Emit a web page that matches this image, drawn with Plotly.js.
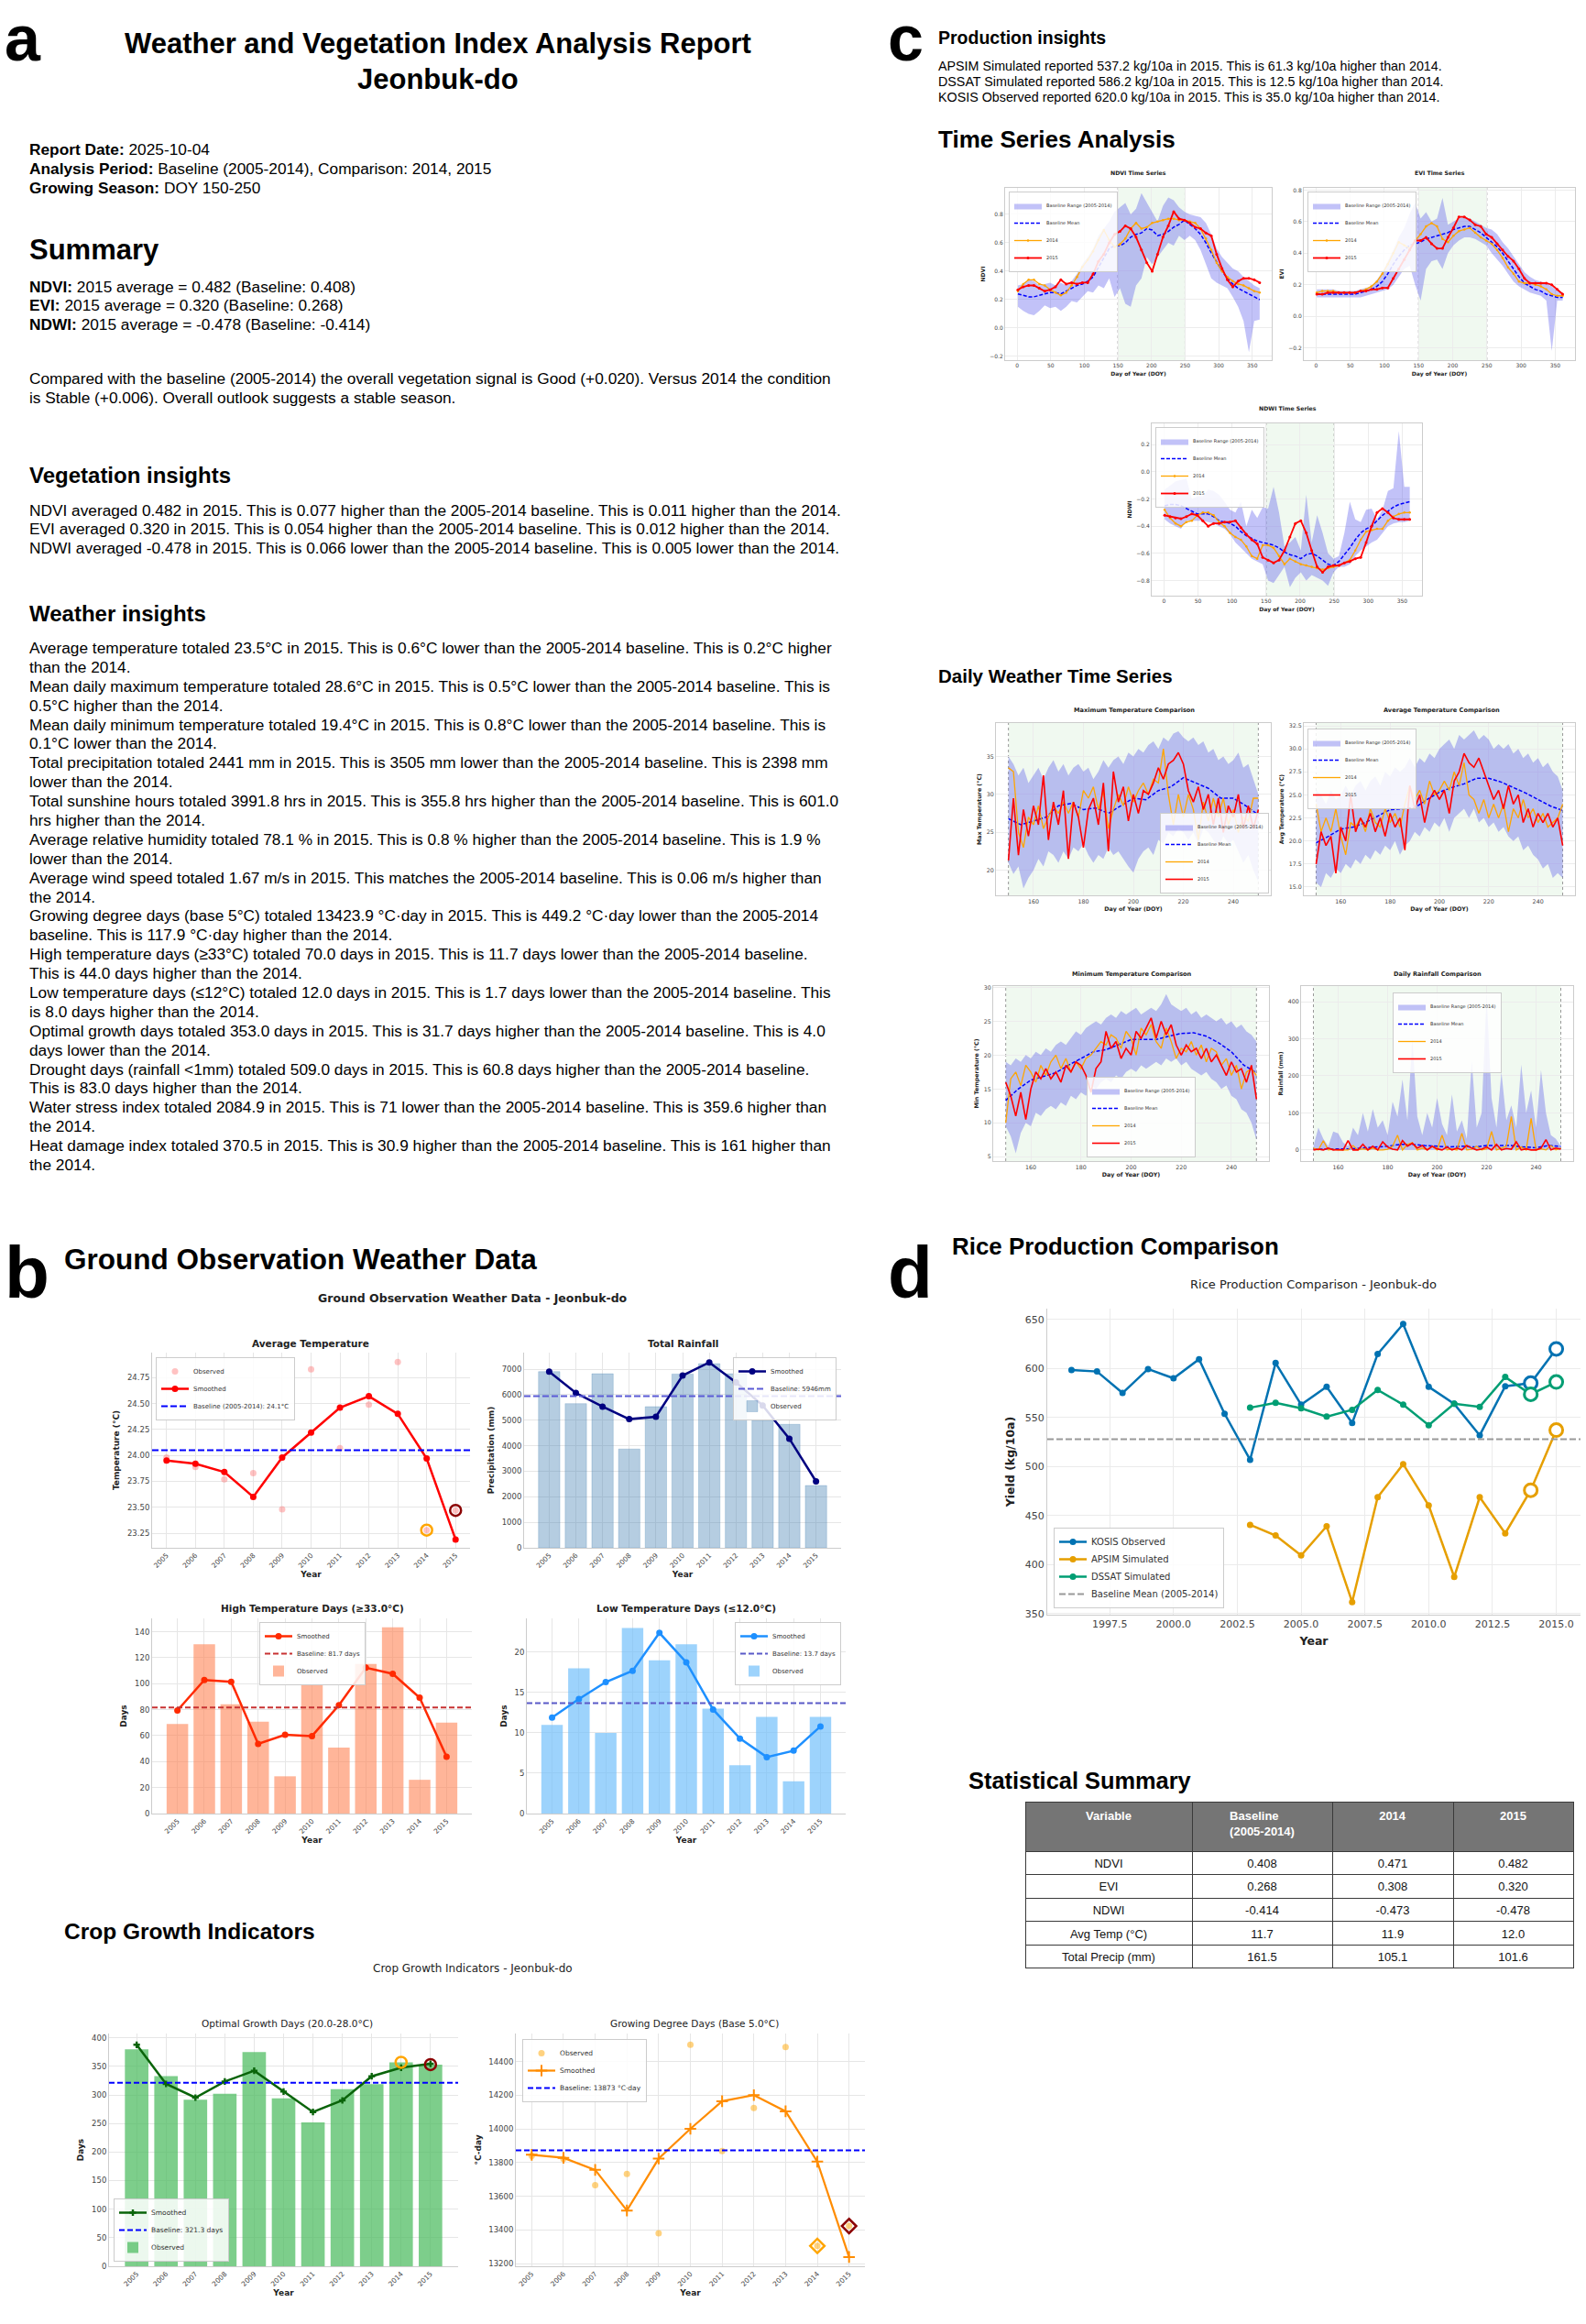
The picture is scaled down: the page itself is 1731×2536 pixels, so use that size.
<!DOCTYPE html>
<html>
<head>
<meta charset="utf-8">
<title>Weather and Vegetation Index Analysis Report - Jeonbuk-do</title>
<script src="https://cdn.plot.ly/plotly-3.0.1.min.js"></script>
<style>
html,body{margin:0;padding:0;background:#ffffff;}
#chart{width:1731px;height:2536px;}
</style>
</head>
<body>
<div id="chart"></div>
<script>
/* ====================== DATA ====================== */
// ---- Panel c: vegetation indices, 8-day composites (DOY) ----
const doy8 = [1,9,17,25,33,41,49,57,65,73,81,89,97,105,113,121,129,137,145,153,161,169,177,185,193,201,209,217,225,233,241,249,257,265,273,281,289,297,305,313,321,329,337,345,353,361];

const ndviLower = [0.15,0.12,0.10,0.09,0.12,0.16,0.14,0.15,0.12,0.15,0.19,0.18,0.22,0.26,0.25,0.30,0.28,0.35,0.22,0.28,0.17,0.15,0.30,0.35,0.50,0.45,0.50,0.55,0.60,0.58,0.65,0.62,0.65,0.62,0.55,0.45,0.35,0.32,0.30,0.28,0.22,0.15,0.05,-0.17,0.05,0.06];
const ndviUpper = [0.30,0.31,0.34,0.33,0.30,0.31,0.32,0.30,0.32,0.30,0.33,0.38,0.45,0.50,0.56,0.65,0.70,0.75,0.82,0.85,0.88,0.80,0.84,0.95,0.88,0.82,0.75,0.86,0.92,0.90,0.85,0.82,0.80,0.79,0.78,0.74,0.66,0.56,0.50,0.46,0.42,0.40,0.36,0.33,0.30,0.28];
const ndviMean  = [0.24,0.23,0.22,0.22,0.23,0.24,0.25,0.25,0.24,0.26,0.28,0.30,0.31,0.33,0.36,0.43,0.50,0.56,0.58,0.58,0.60,0.64,0.66,0.67,0.70,0.69,0.65,0.66,0.68,0.71,0.73,0.76,0.73,0.70,0.66,0.60,0.53,0.46,0.40,0.35,0.31,0.28,0.26,0.24,0.22,0.20];
const ndvi2014  = [0.26,0.31,0.34,0.34,0.31,0.30,0.27,0.25,0.23,0.25,0.30,0.36,0.43,0.48,0.54,0.62,0.69,0.62,0.57,0.59,0.63,0.70,0.74,0.70,0.71,0.74,0.75,0.76,0.77,0.77,0.76,0.76,0.75,0.74,0.70,0.63,0.55,0.46,0.40,0.36,0.33,0.31,0.30,0.28,0.26,0.25];
const ndvi2015  = [0.27,0.29,0.30,0.30,0.28,0.26,0.27,0.29,0.34,0.31,0.32,0.31,0.32,0.32,0.38,0.47,0.52,0.60,0.66,0.68,0.72,0.70,0.64,0.55,0.46,0.40,0.52,0.64,0.72,0.82,0.77,0.76,0.74,0.71,0.70,0.67,0.65,0.52,0.42,0.34,0.29,0.33,0.35,0.35,0.34,0.32];

const eviLower = [0.12,0.12,0.12,0.12,0.12,0.12,0.12,0.12,0.12,0.13,0.14,0.15,0.16,0.17,0.20,0.25,0.30,0.32,0.20,0.10,0.30,0.35,0.36,0.30,0.40,0.45,0.48,0.50,0.50,0.49,0.47,0.45,0.40,0.36,0.32,0.27,0.22,0.19,0.17,0.15,0.14,0.13,0.10,-0.22,0.10,0.10];
const eviUpper = [0.17,0.17,0.17,0.17,0.16,0.16,0.16,0.16,0.17,0.18,0.19,0.23,0.28,0.35,0.42,0.50,0.56,0.65,0.72,0.62,0.66,0.60,0.62,0.75,0.58,0.60,0.62,0.63,0.62,0.60,0.58,0.56,0.55,0.52,0.47,0.43,0.38,0.33,0.28,0.25,0.23,0.22,0.21,0.19,0.16,0.15];
const eviMean  = [0.14,0.14,0.14,0.14,0.14,0.14,0.14,0.14,0.15,0.16,0.17,0.19,0.22,0.27,0.33,0.38,0.42,0.45,0.46,0.47,0.49,0.50,0.51,0.52,0.53,0.55,0.56,0.57,0.57,0.55,0.53,0.50,0.47,0.44,0.40,0.35,0.30,0.25,0.21,0.19,0.17,0.16,0.14,0.13,0.12,0.12];
const evi2014  = [0.15,0.16,0.16,0.16,0.15,0.15,0.15,0.15,0.16,0.17,0.19,0.22,0.27,0.33,0.40,0.47,0.45,0.43,0.48,0.52,0.57,0.59,0.57,0.49,0.47,0.51,0.54,0.55,0.56,0.53,0.50,0.48,0.46,0.42,0.37,0.31,0.27,0.22,0.21,0.21,0.20,0.19,0.17,0.14,0.13,0.13];
const evi2015  = [0.14,0.14,0.15,0.15,0.15,0.15,0.15,0.15,0.16,0.16,0.17,0.17,0.18,0.18,0.24,0.30,0.36,0.42,0.48,0.48,0.50,0.46,0.43,0.43,0.50,0.56,0.63,0.63,0.61,0.58,0.57,0.52,0.50,0.46,0.42,0.38,0.35,0.30,0.24,0.21,0.21,0.21,0.21,0.20,0.17,0.14];

const ndwiLower = [-0.35,-0.38,-0.40,-0.42,-0.36,-0.36,-0.36,-0.36,-0.37,-0.38,-0.40,-0.42,-0.46,-0.52,-0.56,-0.60,-0.64,-0.66,-0.68,-0.80,-0.82,-0.76,-0.70,-0.85,-0.78,-0.74,-0.80,-0.76,-0.78,-0.80,-0.84,-0.74,-0.70,-0.70,-0.68,-0.62,-0.58,-0.55,-0.52,-0.50,-0.45,-0.40,-0.38,-0.37,-0.37,-0.36];
const ndwiUpper = [-0.13,-0.10,-0.07,-0.06,-0.05,-0.20,-0.18,-0.18,-0.13,-0.14,-0.17,-0.22,-0.28,-0.30,-0.22,-0.40,-0.28,-0.34,-0.26,-0.27,-0.11,-0.30,-0.55,-0.52,-0.48,-0.58,-0.17,-0.52,-0.32,-0.45,-0.60,-0.64,-0.62,-0.45,-0.22,-0.35,-0.37,-0.28,-0.27,-0.35,-0.28,-0.14,-0.12,0.30,-0.11,-0.11];
const ndwiMean  = [-0.25,-0.24,-0.24,-0.25,-0.27,-0.29,-0.31,-0.31,-0.31,-0.33,-0.36,-0.37,-0.38,-0.40,-0.44,-0.47,-0.49,-0.51,-0.52,-0.53,-0.54,-0.56,-0.59,-0.61,-0.62,-0.64,-0.61,-0.60,-0.62,-0.65,-0.68,-0.69,-0.66,-0.61,-0.56,-0.50,-0.45,-0.42,-0.40,-0.36,-0.32,-0.29,-0.26,-0.24,-0.23,-0.22];
const ndwi2014  = [-0.28,-0.34,-0.38,-0.40,-0.37,-0.36,-0.32,-0.30,-0.30,-0.32,-0.37,-0.40,-0.45,-0.48,-0.50,-0.55,-0.62,-0.64,-0.54,-0.54,-0.56,-0.62,-0.68,-0.64,-0.66,-0.68,-0.69,-0.70,-0.71,-0.72,-0.71,-0.70,-0.69,-0.67,-0.65,-0.58,-0.50,-0.44,-0.43,-0.42,-0.42,-0.36,-0.33,-0.31,-0.30,-0.30];
const ndwi2015  = [-0.32,-0.33,-0.34,-0.345,-0.33,-0.31,-0.32,-0.36,-0.40,-0.38,-0.38,-0.37,-0.37,-0.36,-0.41,-0.46,-0.50,-0.53,-0.63,-0.65,-0.67,-0.65,-0.58,-0.48,-0.38,-0.36,-0.45,-0.58,-0.70,-0.74,-0.70,-0.69,-0.69,-0.67,-0.66,-0.64,-0.63,-0.52,-0.40,-0.30,-0.27,-0.30,-0.34,-0.35,-0.35,-0.35];

// ---- Panel c: daily weather over the growing season ----
const growingSeason = [150, 250];
const doy2 = [150,152,154,156,158,160,162,164,166,168,170,172,174,176,178,180,182,184,186,188,190,192,194,196,198,200,202,204,206,208,210,212,214,216,218,220,222,224,226,228,230,232,234,236,238,240,242,244,246,248,250];
const doy5 = [150,155,160,165,170,175,180,185,190,195,200,205,210,215,220,225,230,235,240,245,250];

const maxT2015  = [21.3,29.5,22.0,28.0,24.5,28.5,26.0,32.5,24.0,29.0,26.0,30.5,21.5,29.0,27.0,23.0,28.0,29.5,26.0,31.5,22.5,33.0,29.0,31.0,26.5,30.0,27.5,30.5,30.0,31.5,33.5,32.0,34.0,34.5,35.5,34.0,30.5,29.0,31.0,28.0,30.0,26.0,29.5,25.0,28.5,27.0,30.0,25.5,28.5,25.5,28.0];
const maxT2014  = [33.5,33.0,25.0,23.0,27.0,26.0,28.5,25.5,27.0,28.5,27.5,29.0,27.5,29.0,27.0,30.5,29.5,31.0,28.0,30.5,25.5,28.0,30.0,28.5,31.0,29.0,30.5,31.5,30.0,32.0,31.5,36.0,30.0,26.0,30.0,27.0,30.0,28.0,24.0,29.0,26.5,29.5,27.0,29.5,26.0,28.0,25.0,27.0,26.5,29.5,29.5];
const maxTMean  = [26.8,26.0,26.5,27.0,28.5,28.8,28.0,28.2,27.5,28.5,29.5,29.3,30.5,31.0,32.2,31.5,30.8,29.5,29.5,28.5,27.3];
const maxTUpper = [35.0,34.0,32.5,33.5,31.5,32.5,33.5,32.0,33.5,34.5,33.0,34.0,32.5,33.5,34.0,33.0,33.5,32.0,33.0,34.5,33.5,34.5,35.0,34.0,35.5,35.0,36.0,35.5,36.5,37.0,36.0,37.5,37.0,38.0,38.3,37.5,37.0,37.5,36.5,37.0,35.5,36.0,34.5,35.0,34.0,34.5,35.5,33.5,34.0,32.0,30.0];
const maxTLower = [21.0,19.5,20.5,17.6,19.0,20.0,21.5,20.5,22.5,22.0,21.0,22.5,21.5,23.0,22.5,23.5,22.0,21.0,22.0,21.5,23.0,22.0,22.5,21.5,20.5,19.7,21.5,22.5,23.0,22.0,24.0,23.5,25.0,24.5,25.5,25.0,24.0,25.0,23.5,25.5,25.0,24.0,23.0,24.5,23.5,24.0,22.5,21.0,22.0,20.0,18.5];

const avgT2015  = [17.5,21.0,19.5,20.5,16.5,21.5,20.0,25.0,21.0,22.5,21.5,23.0,21.0,22.5,20.5,23.0,21.5,22.5,19.0,26.0,23.5,25.0,22.0,24.5,25.5,24.5,25.5,23.0,26.5,27.5,29.5,28.5,28.0,29.0,27.5,26.0,24.5,25.5,23.5,26.0,24.0,25.0,22.0,23.5,21.5,23.0,22.0,23.0,21.5,22.5,19.5];
const avgT2014  = [24.0,21.0,22.5,21.0,23.5,20.5,18.5,22.0,21.5,22.5,21.0,23.5,22.0,21.5,23.5,22.0,23.0,21.5,24.0,26.0,24.5,25.5,24.0,26.5,25.0,25.5,26.5,25.5,27.5,26.0,28.5,25.0,24.5,23.0,24.5,22.5,24.0,22.5,24.0,21.0,23.5,22.5,24.5,22.5,23.5,22.0,23.0,21.5,22.0,22.5,24.0];
const avgTMean  = [19.8,20.5,21.3,21.5,22.0,22.7,23.4,23.5,23.6,24.5,25.3,25.8,26.2,26.8,26.8,26.4,25.8,25.2,24.5,23.8,23.3];
const avgTUpper = [25.5,25.0,24.0,25.5,24.5,25.0,26.0,25.0,26.0,26.5,25.5,26.5,27.0,26.0,27.5,27.0,28.0,27.5,28.0,29.0,28.0,29.0,28.5,29.5,29.0,30.0,30.5,31.0,30.0,31.5,31.0,31.5,32.0,31.0,31.5,31.0,30.0,30.5,30.0,30.5,29.5,30.0,29.0,29.5,28.5,29.0,28.0,28.5,27.5,27.0,25.5];
const avgTLower = [15.5,15.0,16.5,16.0,17.0,16.5,17.5,17.0,18.0,17.5,18.5,18.0,19.0,18.5,19.5,19.0,20.0,18.5,19.5,20.0,21.0,20.5,21.5,21.0,22.0,21.5,22.5,21.0,22.5,23.0,23.5,22.5,23.5,22.0,22.5,21.5,22.0,21.0,21.5,20.5,20.0,20.5,19.0,19.5,18.5,18.0,17.0,17.5,16.0,16.5,16.0];

const minT2015  = [16.0,14.0,11.0,14.5,10.5,15.0,17.5,16.5,18.0,16.5,17.5,16.0,18.5,17.5,19.0,18.5,17.0,14.5,18.0,19.0,23.5,21.0,22.0,19.5,21.0,20.0,23.5,22.5,24.0,25.5,22.5,25.0,23.0,24.5,21.5,20.0,21.5,20.5,21.0,19.5,21.0,19.0,20.0,18.5,17.0,19.0,17.5,18.0,16.0,18.5,13.5];
const minT2014  = [10.0,16.5,17.5,15.5,18.5,17.5,16.0,18.5,17.0,19.0,20.0,18.0,19.5,17.5,19.0,18.0,19.5,20.0,21.0,22.0,21.5,23.0,22.5,21.0,23.5,22.5,20.0,24.0,23.0,24.5,22.0,21.0,24.0,22.0,19.5,21.0,20.5,22.0,20.0,21.5,19.0,21.0,20.5,18.5,19.5,17.0,18.5,15.0,17.5,18.0,17.0];
const minTMean  = [13.3,15.0,16.3,16.9,17.4,18.5,19.5,20.5,20.8,21.5,22.3,22.3,22.3,22.8,23.2,23.3,22.8,21.8,20.5,18.5,17.4];
const minTUpper = [19.0,18.5,19.5,19.0,20.0,19.5,20.5,20.0,21.0,20.5,21.5,22.0,21.5,22.5,23.5,23.0,24.0,24.5,25.0,24.5,25.5,26.0,25.5,26.5,26.0,26.5,27.0,26.0,26.5,27.0,26.5,27.5,29.0,27.5,27.0,26.5,27.0,26.0,26.5,25.5,26.0,25.5,25.0,25.5,24.5,25.0,24.0,24.5,23.5,23.0,22.0];
const minTLower = [9.5,8.0,5.5,8.5,10.0,9.5,11.5,11.0,12.0,12.5,12.0,13.0,12.5,14.0,13.5,14.5,14.0,15.5,15.0,16.0,16.5,16.0,17.0,16.5,17.5,18.0,17.5,18.5,18.0,18.5,19.0,18.5,19.5,19.0,19.5,18.5,19.0,18.0,17.5,17.0,17.5,16.5,16.0,15.0,15.5,14.0,13.5,12.0,11.5,10.0,7.5];

const rain2015  = [0,2,0,5,0,1,0,25,0,0,15,0,10,0,22,8,2,0,25,10,18,5,12,0,10,3,0,8,0,5,0,12,5,0,2,8,0,15,0,4,2,22,0,3,0,0,5,28,0,5,2];
const rain2014  = [5,0,25,0,2,0,0,0,12,0,3,0,5,0,0,2,10,40,0,15,20,0,5,0,10,0,40,0,3,0,45,0,2,10,0,3,50,0,5,10,90,0,8,0,85,0,3,0,12,0,5];
const rainMean  = [2,3,3,3,5,8,10,15,15,12,10,8,10,8,12,12,12,8,6,12,10];
const rainUpper = [10,60,30,10,50,45,20,10,60,40,100,50,110,60,80,40,130,90,190,80,300,90,40,100,60,140,70,40,150,50,80,30,240,60,100,420,140,60,210,80,120,60,230,100,160,60,215,100,40,30,10];

// ---- Panel b: ground observation (annual) ----
const years = [2005,2006,2007,2008,2009,2010,2011,2012,2013,2014,2015];
const avgTempObs    = [23.98,23.89,23.77,23.83,23.48,24.83,24.07,24.49,24.90,23.28,23.47];
const avgTempSmooth = [23.95,23.92,23.84,23.60,23.98,24.22,24.46,24.57,24.40,23.97,23.19];
const avgTempBaseline = 24.05;
const rainObs    = [6906,5651,6822,3871,5532,6810,7216,6820,4994,4839,2441];
const rainSmooth = [6906,6069,5532,5042,5137,6750,7264,6487,5580,4277,2605];
const rainBaseline = 5946;
const highObs    = [68.9,130.4,84.1,70.7,28.7,98.9,50.8,115.2,143.4,26.0,70.0];
const highSmooth = [79.4,102.9,101.5,53.6,60.6,59.7,83.4,112.3,107.6,89.3,43.7];
const highBaseline = 81.7;
const lowObs     = [11,18,10,23,19,21,13,6,12,4,12];
const lowSmooth  = [11.9,14.2,16.3,17.7,22.4,18.75,12.9,9.3,7.0,7.8,10.8];
const lowBaseline = 13.7;
const optObs     = [380,333,291.4,302,375,294,252,310,319,357,353];
const optSmooth  = [387.8,319.3,295.2,323.5,342.2,305.9,270,290.4,332.6,347.6,354.5];
const optBaseline = 321.3;
const gddObs     = [13840,13823,13666,13733,13381,14500,13869,14125,14487,13306,13424];
const gddSmooth  = [13847,13829,13757,13516,13824,14001,14165,14201,14105,13806,13240];
const gddBaseline = 13873;

// ---- Panel d: rice production ----
const riceYears = [1996,1997,1998,1999,2000,2001,2002,2003,2004,2005,2006,2007,2008,2009,2010,2011,2012,2013,2014,2015];
const kosisObs  = [598.4,596.9,575.0,599.4,590.0,609.4,553.8,506.9,605.6,563.1,581.3,544.4,614.7,645.3,581.3,564.0,531.9,581.9,585.0,620.0];
const simYears  = [2003,2004,2005,2006,2007,2008,2009,2010,2011,2012,2013,2014,2015];
const apsimSim  = [440.6,429.7,409.4,439.1,361.9,468.8,502.5,460.3,387.5,468.8,431.9,475.9,537.2];
const dssatSim  = [560.0,565.0,559.4,550.9,557.8,578.1,563.1,542.2,564.1,560.9,591.3,573.7,586.2];
const riceBaseline = 528;

// ---- Statistical summary table ----
const statHeader   = ['Variable','Baseline<br>(2005-2014)','2014','2015'];
const statVariable = ['NDVI','EVI','NDWI','Avg Temp (°C)','Total Precip (mm)'];
const statBaseline = ['0.408','0.268','-0.414','11.7','161.5'];
const stat2014     = ['0.471','0.308','-0.473','11.9','105.1'];
const stat2015     = ['0.482','0.320','-0.478','12.0','101.6'];

/* ====================== LAYOUT ====================== */
const W = 1731, H = 2536;
const px = v => v / W;
const py = v => 1 - v / H;
const FT = 'Liberation Sans, Arial, Helvetica, sans-serif';
const FP = 'DejaVu Sans, Verdana, sans-serif';
const BAND = 'rgba(70,70,235,0.33)';

const layout = {
  width: W, height: H,
  margin: {l: 0, r: 0, t: 0, b: 0, pad: 0},
  paper_bgcolor: '#ffffff', plot_bgcolor: '#ffffff',
  font: {family: FP, size: 10, color: '#333'},
  hovermode: false, showlegend: true,
  annotations: [], shapes: []
};

function axes(n, box, xo, yo, st) {
  const s = n === 1 ? '' : String(n);
  const common = {showgrid: true, gridcolor: st.grid || '#e8e8e8', gridwidth: 1, zeroline: false,
    showline: true, linecolor: '#cccccc', linewidth: 1, mirror: !!st.mirror, ticks: '',
    automargin: false, fixedrange: true};
  layout['xaxis' + s] = Object.assign({}, common, {
    anchor: 'y' + s, domain: [px(box[0]), px(box[1])],
    tickfont: {family: FP, size: st.xtick || st.tick, color: '#444'},
    title: {text: '<b>' + xo.t + '</b>', font: {family: FP, size: st.title, color: '#222'}, standoff: st.xs}
  }, xo.a);
  layout['yaxis' + s] = Object.assign({}, common, {
    anchor: 'x' + s, domain: [py(box[3]), py(box[2])],
    tickfont: {family: FP, size: st.tick, color: '#444'},
    title: {text: '<b>' + yo.t + '</b>', font: {family: FP, size: st.title, color: '#222'}, standoff: st.ys}
  }, yo.a);
}

function legendBox(n, x, y, xa, ya, size) {
  layout[n === 1 ? 'legend' : 'legend' + n] = {
    x: px(x), y: py(y), xanchor: xa, yanchor: ya, xref: 'paper', yref: 'paper',
    bgcolor: 'rgba(255,255,255,0.85)', bordercolor: '#cccccc', borderwidth: 1,
    font: {family: FP, size: size, color: '#333'}, tracegroupgap: 0, traceorder: 'normal'
  };
}

const traces = [];
function T(n, o) {
  const s = n === 1 ? '' : String(n);
  traces.push(Object.assign({type: 'scatter', xaxis: 'x' + s, yaxis: 'y' + s,
    legend: n === 1 ? 'legend' : 'legend' + n, hoverinfo: 'skip'}, o));
}

/* ---------- panel c: index time series ---------- */
const stC = {tick: 6, title: 6, xs: 4, ys: 4, mirror: true, grid: '#ececec'};
const xrIdx = [-18, 379];
axes(1, [1097, 1388, 205, 393], {t: 'Day of Year (DOY)', a: {range: xrIdx, tick0: 0, dtick: 50}},
  {t: 'NDVI', a: {range: [-0.226, 0.987], tick0: 0, dtick: 0.2, tickformat: '.1f'}}, stC);
axes(2, [1423, 1719, 205, 393], {t: 'Day of Year (DOY)', a: {range: xrIdx, tick0: 0, dtick: 50}},
  {t: 'EVI', a: {range: [-0.278, 0.814], tick0: 0, dtick: 0.2, tickformat: '.1f'}}, stC);
axes(3, [1257, 1552, 462, 650], {t: 'Day of Year (DOY)', a: {range: xrIdx, tick0: 0, dtick: 50}},
  {t: 'NDWI', a: {range: [-0.912, 0.357], tick0: 0, dtick: 0.2, tickformat: '.1f'}}, stC);

function indexChart(n, lower, upper, mean, y14, y15) {
  T(n, {x: doy8, y: lower, mode: 'lines', line: {width: 0, color: 'rgba(0,0,0,0)'}, showlegend: false});
  T(n, {x: doy8, y: upper, mode: 'lines', line: {width: 0, color: 'rgba(0,0,0,0)'}, fill: 'tonexty', fillcolor: BAND, name: 'Baseline Range (2005-2014)'});
  T(n, {x: doy8, y: mean, mode: 'lines', line: {color: '#0000ff', width: 1.5, dash: '4px,2px'}, name: 'Baseline Mean'});
  T(n, {x: doy8, y: y14, mode: 'lines+markers', line: {color: '#ffa500', width: 1.3}, marker: {size: 2.5, color: '#ffa500'}, name: '2014'});
  T(n, {x: doy8, y: y15, mode: 'lines+markers', line: {color: '#ff0000', width: 1.8}, marker: {size: 3, color: '#ff0000'}, name: '2015'});
}
indexChart(1, ndviLower, ndviUpper, ndviMean, ndvi2014, ndvi2015);
indexChart(2, eviLower, eviUpper, eviMean, evi2014, evi2015);
indexChart(3, ndwiLower, ndwiUpper, ndwiMean, ndwi2014, ndwi2015);
legendBox(1, 1101, 209, 'left', 'top', 5);
legendBox(2, 1427, 209, 'left', 'top', 5);
legendBox(3, 1261, 466, 'left', 'top', 5);

/* ---------- panel c: daily weather ---------- */
const stD = {tick: 6.3, title: 6.3, xs: 4, ys: 4, mirror: true, grid: '#ececec'};
const xrDay = [145, 255];
axes(4, [1087, 1387, 789, 977], {t: 'Day of Year (DOY)', a: {range: xrDay, tick0: 0, dtick: 20}},
  {t: 'Max Temperature (°C)', a: {range: [16.7, 39.4], tick0: 0, dtick: 5}}, stD);
axes(5, [1423, 1719, 789, 977], {t: 'Day of Year (DOY)', a: {range: xrDay, tick0: 0, dtick: 20}},
  {t: 'Avg Temperature (°C)', a: {range: [14.1, 32.8], tick0: 0, dtick: 2.5, tickformat: '.1f'}}, stD);
axes(6, [1084, 1385, 1076, 1267], {t: 'Day of Year (DOY)', a: {range: xrDay, tick0: 0, dtick: 20}},
  {t: 'Min Temperature (°C)', a: {range: [4.35, 30.2], tick0: 0, dtick: 5}}, stD);
axes(7, [1420, 1717, 1076, 1267], {t: 'Day of Year (DOY)', a: {range: xrDay, tick0: 0, dtick: 20}},
  {t: 'Rainfall (mm)', a: {range: [-30, 442], tick0: 0, dtick: 100}}, stD);

function dailyChart(n, lower, upper, mean, y14, y15) {
  if (lower) {
    T(n, {x: doy2, y: lower, mode: 'lines', line: {width: 0, color: 'rgba(0,0,0,0)'}, showlegend: false});
    T(n, {x: doy2, y: upper, mode: 'lines', line: {width: 0, color: 'rgba(0,0,0,0)'}, fill: 'tonexty', fillcolor: BAND, name: 'Baseline Range (2005-2014)'});
  } else {
    T(n, {x: doy2, y: upper, mode: 'lines', line: {width: 0, color: 'rgba(0,0,0,0)'}, fill: 'tozeroy', fillcolor: BAND, name: 'Baseline Range (2005-2014)'});
  }
  T(n, {x: doy5, y: mean, mode: 'lines', line: {color: '#0000ff', width: 1.5, dash: '4px,2px'}, name: 'Baseline Mean'});
  T(n, {x: doy2, y: y14, mode: 'lines', line: {color: '#ffa500', width: 1.3}, name: '2014'});
  T(n, {x: doy2, y: y15, mode: 'lines', line: {color: '#ff0000', width: 1.6}, name: '2015'});
}
dailyChart(4, maxTLower, maxTUpper, maxTMean, maxT2014, maxT2015);
dailyChart(5, avgTLower, avgTUpper, avgTMean, avgT2014, avgT2015);
dailyChart(6, minTLower, minTUpper, minTMean, minT2014, minT2015);
dailyChart(7, null, rainUpper, rainMean, rain2014, rain2015);
legendBox(4, 1385, 975, 'right', 'bottom', 5);
legendBox(5, 1427, 795, 'left', 'top', 5);
legendBox(6, 1186, 1263, 'left', 'bottom', 5);
legendBox(7, 1520, 1083, 'left', 'top', 5);

// growing season shading on all DOY charts
for (const n of [1, 2, 3, 4, 5, 6, 7]) {
  const s = n === 1 ? '' : String(n);
  layout.shapes.push({type: 'rect', xref: 'x' + s, yref: 'y' + s + ' domain', x0: growingSeason[0], x1: growingSeason[1], y0: 0, y1: 1,
    fillcolor: 'rgba(0,150,0,0.06)', line: {width: 0}, layer: 'below'});
  for (const g of growingSeason) {
    layout.shapes.push({type: 'line', xref: 'x' + s, yref: 'y' + s + ' domain', x0: g, x1: g, y0: 0, y1: 1,
      line: {color: '#999999', width: 1, dash: 'dot'}, layer: 'below'});
  }
}

/* ---------- panel b: ground observation ---------- */
const stB = {tick: 8.5, xtick: 7.5, title: 9, xs: 2, ys: 6, mirror: false, grid: '#e6e6e6'};
const xrLine = [2004.5, 2015.5];
const xrBar = [2004.06, 2015.94];
const yearAxis = r => ({range: r, tick0: 2005, dtick: 1, tickangle: -45});
axes(8, [166, 513, 1476, 1689], {t: 'Year', a: yearAxis(xrLine)},
  {t: 'Temperature (°C)', a: {range: [23.11, 24.99], tick0: 0, dtick: 0.25, tickformat: '.2f'}}, stB);
axes(9, [572, 918, 1476, 1689], {t: 'Year', a: yearAxis(xrBar)},
  {t: 'Precipitation (mm)', a: {range: [0, 7650], tick0: 0, dtick: 1000, tickformat: 'd'}}, stB);
axes(10, [166, 515, 1766, 1979], {t: 'Year', a: yearAxis(xrBar)},
  {t: 'Days', a: {range: [0, 150.3], tick0: 0, dtick: 20}}, stB);
axes(11, [575, 923, 1766, 1979], {t: 'Year', a: yearAxis(xrBar)},
  {t: 'Days', a: {range: [0, 24.2], tick0: 0, dtick: 5}}, stB);
axes(12, [119, 500, 2219, 2473], {t: 'Year', a: yearAxis(xrBar)},
  {t: 'Days', a: {range: [0, 407.5], tick0: 0, dtick: 50}}, stB);
axes(13, [563, 944, 2219, 2473], {t: 'Year', a: yearAxis(xrLine)},
  {t: '°C-day', a: {range: [13185, 14567], tick0: 0, dtick: 200, tickformat: 'd'}}, stB);

function highlight(n, x, y, color, symbol) {
  T(n, {x: [x], y: [y], mode: 'markers', showlegend: false,
    marker: {symbol: symbol, size: 12, color: color, line: {width: 2.5, color: color}}});
}

// Average temperature
T(8, {x: years, y: avgTempObs, mode: 'markers', marker: {color: 'rgba(255,110,110,0.42)', size: 7}, name: 'Observed'});
T(8, {x: years, y: avgTempSmooth, mode: 'lines+markers', line: {color: '#ff0000', width: 2.5}, marker: {color: '#ff0000', size: 7}, name: 'Smoothed'});
T(8, {x: xrLine, y: [avgTempBaseline, avgTempBaseline], mode: 'lines', line: {color: '#0000ff', width: 2, dash: '7px,3px'}, name: 'Baseline (2005-2014): 24.1°C'});
highlight(8, years[9], avgTempObs[9], '#ffa500', 'circle-open');
highlight(8, years[10], avgTempObs[10], '#8b0000', 'circle-open');
legendBox(8, 170, 1481, 'left', 'top', 7);

// Total rainfall
T(9, {type: 'bar', x: years, y: rainObs, width: 0.8, marker: {color: 'rgba(70,130,180,0.4)', line: {width: 0.6, color: 'rgba(70,130,180,0.45)'}}, name: 'Observed', legendrank: 3});
T(9, {x: years, y: rainSmooth, mode: 'lines+markers', line: {color: '#000080', width: 2.5}, marker: {color: '#000080', size: 7}, name: 'Smoothed', legendrank: 1});
T(9, {x: xrBar, y: [rainBaseline, rainBaseline], mode: 'lines', line: {color: '#5b5bd6', width: 2, dash: '7px,3px'}, name: 'Baseline: 5946mm', legendrank: 2});
legendBox(9, 913, 1481, 'right', 'top', 7);

// High temperature days
T(10, {type: 'bar', x: years, y: highObs, width: 0.8, marker: {color: 'rgba(255,127,80,0.58)'}, name: 'Observed', legendrank: 3});
T(10, {x: years, y: highSmooth, mode: 'lines+markers', line: {color: '#ff2a00', width: 2.5}, marker: {color: '#ff2a00', size: 7}, name: 'Smoothed', legendrank: 1});
T(10, {x: xrBar, y: [highBaseline, highBaseline], mode: 'lines', line: {color: '#c83232', width: 2, dash: '6px,3px'}, name: 'Baseline: 81.7 days', legendrank: 2});
legendBox(10, 283, 1770, 'left', 'top', 7);

// Low temperature days
T(11, {type: 'bar', x: years, y: lowObs, width: 0.8, marker: {color: 'rgba(110,190,250,0.68)'}, name: 'Observed', legendrank: 3});
T(11, {x: years, y: lowSmooth, mode: 'lines+markers', line: {color: '#1e90ff', width: 2.5}, marker: {color: '#1e90ff', size: 7}, name: 'Smoothed', legendrank: 1});
T(11, {x: xrBar, y: [lowBaseline, lowBaseline], mode: 'lines', line: {color: '#5a5ac8', width: 2, dash: '6px,3px'}, name: 'Baseline: 13.7 days', legendrank: 2});
legendBox(11, 918, 1770, 'right', 'top', 7);

// Optimal growth days
T(12, {type: 'bar', x: years, y: optObs, width: 0.8, marker: {color: 'rgba(70,185,90,0.7)'}, name: 'Observed', legendrank: 3});
T(12, {x: years, y: optSmooth, mode: 'lines+markers', line: {color: '#0a640a', width: 2.5}, marker: {color: '#0a640a', size: 6, symbol: 'cross'}, name: 'Smoothed', legendrank: 1});
T(12, {x: xrBar, y: [optBaseline, optBaseline], mode: 'lines', line: {color: '#0000ff', width: 2, dash: '6px,3px'}, name: 'Baseline: 321.3 days', legendrank: 2});
highlight(12, years[9], optObs[9], '#ffa500', 'circle-open');
highlight(12, years[10], optObs[10], '#8b0000', 'circle-open');
legendBox(12, 124, 2468, 'left', 'bottom', 7.5);

// Growing degree days
T(13, {x: years, y: gddObs, mode: 'markers', marker: {color: 'rgba(255,165,0,0.5)', size: 7}, name: 'Observed'});
T(13, {x: years, y: gddSmooth, mode: 'lines+markers', line: {color: '#ff8c00', width: 2.2}, marker: {symbol: 'cross-thin', size: 9, color: '#ff8c00', line: {width: 2, color: '#ff8c00'}}, name: 'Smoothed'});
T(13, {x: xrLine, y: [gddBaseline, gddBaseline], mode: 'lines', line: {color: '#0000ff', width: 2, dash: '6px,3px'}, name: 'Baseline: 13873 °C·day'});
highlight(13, years[9], gddObs[9], '#ffa500', 'diamond-open');
highlight(13, years[10], gddObs[10], '#8b0000', 'diamond-open');
legendBox(13, 570, 2225, 'left', 'top', 7.5);

/* ---------- panel d: rice production ---------- */
const stR = {tick: 11, title: 12.5, xs: 8, ys: 8, mirror: false, grid: '#ebebeb'};
const xrRice = [1995.05, 2015.95];
axes(14, [1143, 1725, 1428, 1762], {t: 'Year', a: {range: xrRice, tick0: 1997.5, dtick: 2.5, tickformat: '.1f'}},
  {t: 'Yield (kg/10a)', a: {range: [349, 661], tick0: 0, dtick: 50}}, stR);
const riceSeries = [
  {name: 'KOSIS Observed', x: riceYears, y: kosisObs, c: '#0072b2'},
  {name: 'APSIM Simulated', x: simYears, y: apsimSim, c: '#e69f00'},
  {name: 'DSSAT Simulated', x: simYears, y: dssatSim, c: '#009e73'}
];
riceSeries.forEach(s => {
  T(14, {x: s.x, y: s.y, mode: 'lines+markers', line: {color: s.c, width: 2.5}, marker: {color: s.c, size: 7}, name: s.name});
});
T(14, {x: xrRice, y: [riceBaseline, riceBaseline], mode: 'lines', line: {color: '#999999', width: 2, dash: '7px,3px'}, name: 'Baseline Mean (2005-2014)'});
riceSeries.forEach(s => {
  T(14, {x: s.x.slice(-2), y: s.y.slice(-2), mode: 'markers', showlegend: false,
    marker: {symbol: 'circle', size: 14, color: '#ffffff', line: {width: 3, color: s.c}}});
});
legendBox(14, 1150, 1755, 'left', 'bottom', 10);

/* ---------- statistical summary table ---------- */
traces.push({
  type: 'table',
  domain: {x: [px(1119), px(1717)], y: [py(2148), py(1966)]},
  columnwidth: [182, 153, 132, 131],
  header: {values: statHeader.map(v => '<b>' + v + '</b>'), height: 54, align: 'center',
    fill: {color: '#757575'}, line: {color: '#3a3a3a', width: 1},
    font: {family: FT, size: 13, color: '#ffffff'}},
  cells: {values: [statVariable, statBaseline, stat2014, stat2015], height: 25.6, align: 'center',
    fill: {color: '#ffffff'}, line: {color: '#3a3a3a', width: 1},
    font: {family: FT, size: 13, color: '#111111'}}
});

/* ====================== TEXT ====================== */
function A(text, x, y, size, o) {
  layout.annotations.push(Object.assign({
    text: text, x: px(x), y: py(y), xref: 'paper', yref: 'paper', showarrow: false,
    xanchor: 'left', yanchor: 'middle', align: 'left',
    font: {family: FT, size: size, color: '#000000'}
  }, o || {}));
}
function C(text, x, y, size, family, color) {
  A(text, x, y, size, {xanchor: 'center', align: 'center', font: {family: family || FP, size: size, color: color || '#222222'}});
}

// panel letters
A('<b>a</b>', 3, 1, 70, {yanchor: 'top'});
A('<b>c</b>', 967, 1, 70, {yanchor: 'top'});
A('<b>b</b>', 3, 1388, 80);
A('<b>d</b>', 967, 1388, 80);

// panel a
C('<b>Weather and Vegetation Index Analysis Report</b>', 478, 48, 31, FT, '#000000');
C('<b>Jeonbuk-do</b>', 478, 86, 31, FT, '#000000');
const LX = 30, BODY = 17.3;
A('<b>Report Date:</b> 2025-10-04', LX, 163, BODY);
A('<b>Analysis Period:</b> Baseline (2005-2014), Comparison: 2014, 2015', LX, 184, BODY);
A('<b>Growing Season:</b> DOY 150-250', LX, 205, BODY);
A('<b>Summary</b>', LX, 272, 31);
A('<b>NDVI:</b> 2015 average = 0.482 (Baseline: 0.408)', LX, 313, BODY);
A('<b>EVI:</b> 2015 average = 0.320 (Baseline: 0.268)', LX, 333, BODY);
A('<b>NDWI:</b> 2015 average = -0.478 (Baseline: -0.414)', LX, 354, BODY);
A('Compared with the baseline (2005-2014) the overall vegetation signal is Good (+0.020). Versus 2014 the condition', LX, 413, BODY);
A('is Stable (+0.006). Overall outlook suggests a stable season.', LX, 434, BODY);
A('<b>Vegetation insights</b>', LX, 518, 24);
A('NDVI averaged 0.482 in 2015. This is 0.077 higher than the 2005-2014 baseline. This is 0.011 higher than the 2014.', LX, 557, BODY);
A('EVI averaged 0.320 in 2015. This is 0.054 higher than the 2005-2014 baseline. This is 0.012 higher than the 2014.', LX, 577, BODY);
A('NDWI averaged -0.478 in 2015. This is 0.066 lower than the 2005-2014 baseline. This is 0.005 lower than the 2014.', LX, 598, BODY);
A('<b>Weather insights</b>', LX, 669, 24);
const weatherLines = [
  'Average temperature totaled 23.5°C in 2015. This is 0.6°C lower than the 2005-2014 baseline. This is 0.2°C higher',
  'than the 2014.',
  'Mean daily maximum temperature totaled 28.6°C in 2015. This is 0.5°C lower than the 2005-2014 baseline. This is',
  '0.5°C higher than the 2014.',
  'Mean daily minimum temperature totaled 19.4°C in 2015. This is 0.8°C lower than the 2005-2014 baseline. This is',
  '0.1°C lower than the 2014.',
  'Total precipitation totaled 2441 mm in 2015. This is 3505 mm lower than the 2005-2014 baseline. This is 2398 mm',
  'lower than the 2014.',
  'Total sunshine hours totaled 3991.8 hrs in 2015. This is 355.8 hrs higher than the 2005-2014 baseline. This is 601.0',
  'hrs higher than the 2014.',
  'Average relative humidity totaled 78.1 % in 2015. This is 0.8 % higher than the 2005-2014 baseline. This is 1.9 %',
  'lower than the 2014.',
  'Average wind speed totaled 1.67 m/s in 2015. This matches the 2005-2014 baseline. This is 0.06 m/s higher than',
  'the 2014.',
  'Growing degree days (base 5°C) totaled 13423.9 °C·day in 2015. This is 449.2 °C·day lower than the 2005-2014',
  'baseline. This is 117.9 °C·day higher than the 2014.',
  'High temperature days (≥33°C) totaled 70.0 days in 2015. This is 11.7 days lower than the 2005-2014 baseline.',
  'This is 44.0 days higher than the 2014.',
  'Low temperature days (≤12°C) totaled 12.0 days in 2015. This is 1.7 days lower than the 2005-2014 baseline. This',
  'is 8.0 days higher than the 2014.',
  'Optimal growth days totaled 353.0 days in 2015. This is 31.7 days higher than the 2005-2014 baseline. This is 4.0',
  'days lower than the 2014.',
  'Drought days (rainfall &lt;1mm) totaled 509.0 days in 2015. This is 60.8 days higher than the 2005-2014 baseline.',
  'This is 83.0 days higher than the 2014.',
  'Water stress index totaled 2084.9 in 2015. This is 71 lower than the 2005-2014 baseline. This is 359.6 higher than',
  'the 2014.',
  'Heat damage index totaled 370.5 in 2015. This is 30.9 higher than the 2005-2014 baseline. This is 161 higher than',
  'the 2014.'
];
weatherLines.forEach((t, i) => A(t, LX, 707 + 20.89 * i, BODY));

// panel c text
A('<b>Production insights</b>', 1022, 41, 19.5);
A('APSIM Simulated reported 537.2 kg/10a in 2015. This is 61.3 kg/10a higher than 2014.', 1022, 72, 14.3);
A('DSSAT Simulated reported 586.2 kg/10a in 2015. This is 12.5 kg/10a higher than 2014.', 1022, 89, 14.3);
A('KOSIS Observed reported 620.0 kg/10a in 2015. This is 35.0 kg/10a higher than 2014.', 1022, 106, 14.3);
A('<b>Time Series Analysis</b>', 1022, 152, 26);
A('<b>Daily Weather Time Series</b>', 1022, 738, 20.5);
C('<b>NDVI Time Series</b>', 1242, 189, 6.2);
C('<b>EVI Time Series</b>', 1571, 189, 6.2);
C('<b>NDWI Time Series</b>', 1405, 445, 6.2);
C('<b>Maximum Temperature Comparison</b>', 1238, 775, 6.6);
C('<b>Average Temperature Comparison</b>', 1573, 775, 6.6);
C('<b>Minimum Temperature Comparison</b>', 1235, 1063, 6.6);
C('<b>Daily Rainfall Comparison</b>', 1569, 1063, 6.6);

// panel b text
A('<b>Ground Observation Weather Data</b>', 68, 1374, 31.5);
C('<b>Ground Observation Weather Data - Jeonbuk-do</b>', 516, 1416, 12.5);
C('<b>Average Temperature</b>', 339, 1466, 10.5);
C('<b>Total Rainfall</b>', 745, 1466, 10.5);
C('<b>High Temperature Days (≥33.0°C)</b>', 341, 1755, 10.5);
C('<b>Low Temperature Days (≤12.0°C)</b>', 749, 1755, 10.5);
A('<b>Crop Growth Indicators</b>', 68, 2107, 24.5);
C('Crop Growth Indicators - Jeonbuk-do', 516, 2148, 12);
C('Optimal Growth Days (20.0-28.0°C)', 313, 2208, 10.5);
C('Growing Degree Days (Base 5.0°C)', 758, 2208, 10.5);

// panel d text
A('<b>Rice Production Comparison</b>', 1037, 1360, 25.9);
C('Rice Production Comparison - Jeonbuk-do', 1433, 1401, 13);
A('<b>Statistical Summary</b>', 1055, 1943, 25.4);

Plotly.newPlot('chart', traces, layout, {staticPlot: true, displayModeBar: false, responsive: false});
</script>
</body>
</html>
